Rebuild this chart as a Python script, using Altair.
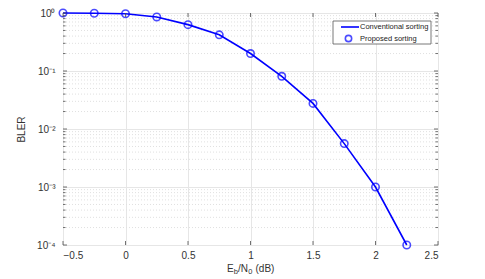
import altair as alt
import pandas as pd
import math

# ---- data ----
ebn0 = [-0.5, -0.25, 0, 0.25, 0.5, 0.75, 1.0, 1.25, 1.5, 1.75, 2.0, 2.25]
bler = [1.0, 0.99, 0.97, 0.855, 0.63, 0.42, 0.20, 0.081, 0.0276, 0.0056, 0.001, 0.0001]
x_ticks = [-0.5, 0, 0.5, 1, 1.5, 2, 2.5]
y_major = [1e-4, 1e-3, 1e-2, 1e-1, 1]
y_minor = [m * 10.0 ** e for e in range(-4, 0) for m in range(2, 10)]
legend_labels = ["Conventional sorting", "Proposed sorting"]

W, H = 375, 232
FONT = "Liberation Sans"
BLUE = "#0000ff"
AX = "#4d4d4d"

df = pd.DataFrame({"x": ebn0, "y": bler})
xs = alt.Scale(domain=[-0.5, 2.5], nice=False, zero=False)
ys = alt.Scale(type="log", domain=[1e-4, 1], nice=False)

sup = {"0": "⁰", "1": "¹", "2": "²", "3": "³", "4": "⁴", "-": "⁻"}
expr = ""
for v in y_major:
    e = str(int(round(math.log10(v))))
    s = "10" + "".join(sup[c] for c in e)
    expr += f"abs(log(datum.value)/LN10 - ({e})) < 0.01 ? '{s}' : "
expr += "''"

base = alt.Chart(df)

line = base.mark_line(color=BLUE, strokeWidth=1.6).encode(
    x=alt.X("x:Q", scale=xs, axis=alt.Axis(values=x_ticks, title=None, grid=True, gridColor="#e6e6e6",
                                           ticks=False, domain=False, labelFont=FONT, labelFontSize=10,
                                           labelColor="#333", labelPadding=5,
                                           labelExpr="datum.value == 0 ? '0' : format(datum.value, '.1~f')")),
    y=alt.Y("y:Q", scale=ys, axis=alt.Axis(values=y_major, title="BLER", grid=True, gridColor="#e6e6e6",
                                           ticks=False, domain=False, labelFont=FONT, labelFontSize=10,
                                           labelColor="#333", labelPadding=8, labelExpr=expr,
                                           titleFont=FONT, titleFontSize=10, titleFontWeight="normal",
                                           titleColor="#333", titlePadding=10)),
)
pts = base.mark_point(shape="circle", color=BLUE, filled=False, size=55, strokeWidth=1.6).encode(
    x=alt.X("x:Q", scale=xs), y=alt.Y("y:Q", scale=ys))

minor_df = pd.DataFrame({"v": y_minor})
minor_grid = alt.Chart(minor_df).mark_rule(color="#e0e0e0", strokeDash=[1, 2], strokeWidth=1).encode(
    y=alt.Y("v:Q", scale=ys), x=alt.value(0), x2=alt.value(W))
minor_tick_l = alt.Chart(minor_df).mark_rule(color=AX, strokeWidth=0.8).encode(
    y=alt.Y("v:Q", scale=ys), x=alt.value(0), x2=alt.value(2.5))
minor_tick_r = alt.Chart(minor_df).mark_rule(color=AX, strokeWidth=0.8).encode(
    y=alt.Y("v:Q", scale=ys), x=alt.value(W - 2.5), x2=alt.value(W))
major_df = pd.DataFrame({"v": y_major})
major_tick_l = alt.Chart(major_df).mark_rule(color=AX, strokeWidth=0.8).encode(
    y=alt.Y("v:Q", scale=ys), x=alt.value(0), x2=alt.value(4))
major_tick_r = alt.Chart(major_df).mark_rule(color=AX, strokeWidth=0.8).encode(
    y=alt.Y("v:Q", scale=ys), x=alt.value(W - 4), x2=alt.value(W))
xt_df = pd.DataFrame({"v": x_ticks})
x_tick_b = alt.Chart(xt_df).mark_rule(color=AX, strokeWidth=0.8).encode(
    x=alt.X("v:Q", scale=xs), y=alt.value(H - 4), y2=alt.value(H))
x_tick_t = alt.Chart(xt_df).mark_rule(color=AX, strokeWidth=0.8).encode(
    x=alt.X("v:Q", scale=xs), y=alt.value(0), y2=alt.value(4))

# x-axis title with subscripts
def txt(s, x, y, size=10):
    return alt.Chart(pd.DataFrame({"t": [s]})).mark_text(
        align="left", baseline="middle", font=FONT, fontSize=size, color="#333").encode(
        text="t:N", x=alt.value(x), y=alt.value(y))

ty = H + 23.5
xtitle = (txt("E", 164, ty) + txt("b", 170.8, ty + 3, 7.5) + txt("/N", 175, ty)
          + txt("0", 185.2, ty + 3, 7.5) + txt("(dB)", 192.5, ty))

# legend
leg_box = alt.Chart(pd.DataFrame({"a": [0]})).mark_rect(fill="white", stroke="#555", strokeWidth=0.8).encode(
    x=alt.value(270), x2=alt.value(368), y=alt.value(8), y2=alt.value(31))
leg_line = alt.Chart(pd.DataFrame({"a": [0]})).mark_rule(color=BLUE, strokeWidth=1.6).encode(
    x=alt.value(278), x2=alt.value(296), y=alt.value(14), y2=alt.value(14))
leg_pt = alt.Chart(pd.DataFrame({"a": [0]})).mark_point(shape="circle", color=BLUE, filled=False, size=40,
                                                        strokeWidth=1.6).encode(
    x=alt.value(285.5), y=alt.value(25.5))
leg_t1 = alt.Chart(pd.DataFrame({"t": [legend_labels[0]]})).mark_text(
    align="left", baseline="middle", font=FONT, fontSize=7.5, color="#222").encode(
    text="t:N", x=alt.value(297), y=alt.value(14))
leg_t2 = alt.Chart(pd.DataFrame({"t": [legend_labels[1]]})).mark_text(
    align="left", baseline="middle", font=FONT, fontSize=7.5, color="#222").encode(
    text="t:N", x=alt.value(297), y=alt.value(25.5))

chart = alt.layer(
    minor_grid, line, pts, minor_tick_l, minor_tick_r, major_tick_l, major_tick_r,
    x_tick_b, x_tick_t, xtitle, leg_box, leg_line, leg_pt, leg_t1, leg_t2
).properties(
    width=W, height=H, autosize=alt.AutoSizeParams(type="none"),
    padding={"left": 55, "top": 5, "right": 20, "bottom": 33},
).configure_view(stroke=AX, strokeWidth=1).configure(background="white")

chart.save("out.html", embed_options={"renderer": "svg", "actions": False})
